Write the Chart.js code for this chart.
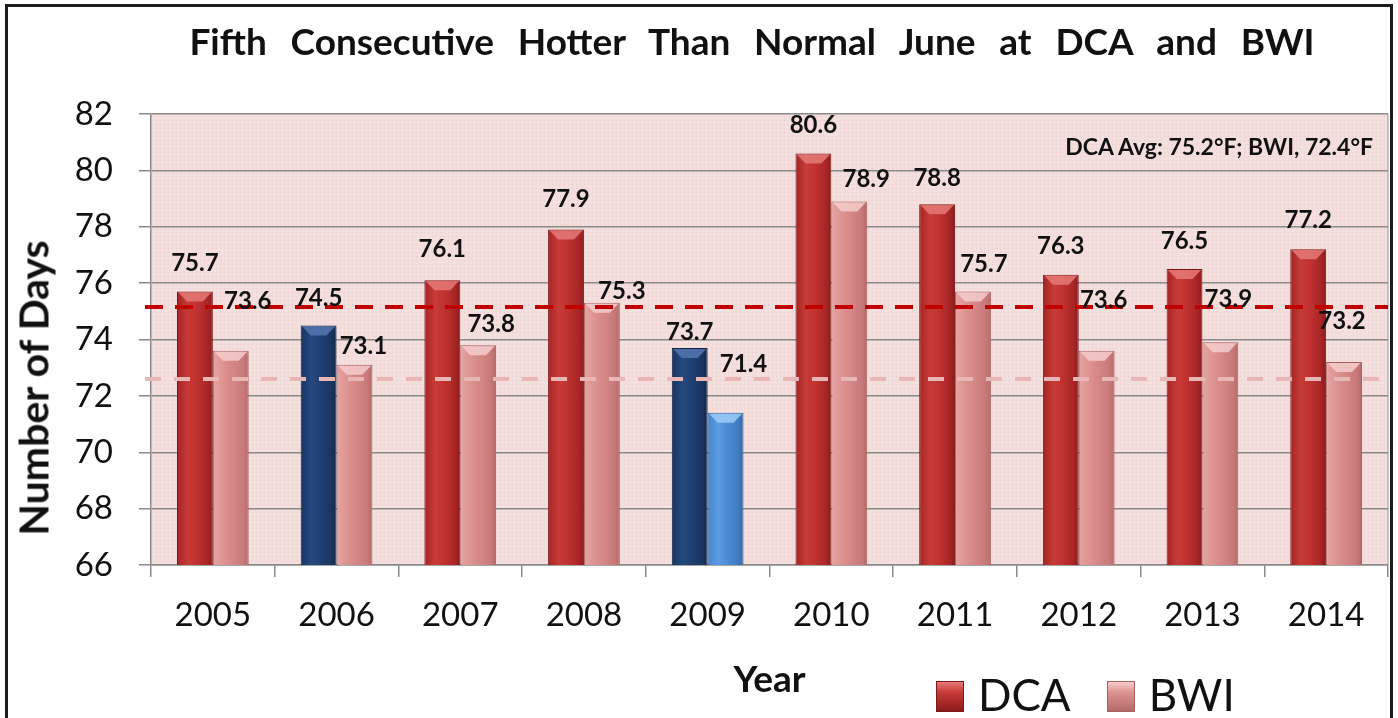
<!DOCTYPE html>
<html>
<head>
<meta charset="utf-8">
<title>Fifth Consecutive Hotter Than Normal June at DCA and BWI</title>
<script src="https://cdn.jsdelivr.net/npm/chart.js@4.4.1/dist/chart.umd.min.js"></script>
<style>
  html, body { margin: 0; padding: 0; background: #fff; }
  body { width: 1398px; height: 718px; overflow: hidden; position: relative;
         font-family: Lato, "Open Sans", sans-serif; color: #111; }
  #frame { position: absolute; left: 5px; top: 4px; width: 1382px; height: 800px;
           border: 3px solid #1c1c1c; }
  #wrap { position: absolute; left: 0; top: 0; width: 1398px; height: 718px; }
  #title { position: absolute; left: 752px; top: 22px; transform: translateX(-50%);
           font-weight: bold; font-size: 37px; line-height: 37px; white-space: nowrap; }
  #ytitle { position: absolute; left: 33px; top: 388px; transform: translate(-50%, -50%) rotate(-90deg);
            font-weight: bold; font-size: 41px; line-height: 41px; white-space: nowrap; }
  #note { position: absolute; right: 25px; top: 135px; font-weight: bold; font-size: 23px;
          line-height: 23px; white-space: nowrap; }
  #legend { position: absolute; left: 936px; top: 672px; height: 44px; display: flex; align-items: center; }
  #legend .item { display: flex; align-items: center; margin-right: 36px; }
  #legend .sw { width: 28px; height: 31px; margin-right: 14px; margin-top: 4px; box-sizing: border-box; }
  #legend .tx { font-size: 44px; line-height: 44px; }
</style>
</head>
<body>
<div id="frame"></div>
<div id="wrap"><canvas id="chart"></canvas></div>
<div id="title">Fifth Consecutive Hotter Than Normal June at DCA and BWI</div>
<div id="ytitle">Number of Days</div>
<div id="note">DCA Avg: 75.2°F; BWI, 72.4°F</div>
<div id="legend"></div>
<script>
(function () {
  "use strict";

  /* ---- data ---- */
  var YEARS = ["2005", "2006", "2007", "2008", "2009", "2010", "2011", "2012", "2013", "2014"];
  var DCA = [75.7, 74.5, 76.1, 77.9, 73.7, 80.6, 78.8, 76.3, 76.5, 77.2];
  var BWI = [73.6, 73.1, 73.8, 75.3, 71.4, 78.9, 75.7, 73.6, 73.9, 73.2];
  var DCA_COOL = ["2006", "2009"];   // bars shown in blue
  var BWI_COOL = ["2009"];
  var DCA_AVG_LINE = 75.15;          // where the dashed lines sit on the axis
  var BWI_AVG_LINE = 72.6;
  var Y_TICKS = [66, 68, 70, 72, 74, 76, 78, 80, 82];

  /* ---- style ---- */
  var FONT = "Lato, 'Open Sans', sans-serif";
  var INK = "#111";
  var GRID = "#8a8a8a";
  var CAT_PCT = 0.58;
  var STOP_POS = [0, 0.3, 0.55, 0.85, 1];
  var PAL = {
    dca:     { stops: ["#a42424", "#c73b37", "#c03230", "#a82626", "#8c1b1b"], cap: "#e57a78", edge: "#7d1818" },
    bwi:     { stops: ["#e6a4a2", "#dd9391", "#d48785", "#c77a79", "#b46a69"], cap: "#f6cdcc", edge: "#a86161" },
    dcaCool: { stops: ["#173463", "#25497f", "#1f3f72", "#1a365f", "#122747"], cap: "#5577b0", edge: "#0f2240" },
    bwiCool: { stops: ["#4686d0", "#5a9be2", "#4c8cd4", "#3f7cc2", "#3368a8"], cap: "#9fcdf5", edge: "#2d5d98" }
  };
  // the Excel labels were nudged by hand; these copy the offsets (px)
  var DCA_LIFT = [28, 27, 31, 30, 16, 28, 26, 28, 28, 29];
  var BWI_LIFT = [50, 19, 21, 12, 49, 22, 27, 51, 43, 41];
  var BWI_SHIFT = [-1, -9, -5, 2, 0, -1, -7, -11, -10, -20];

  function paletteFor(di, i) {
    var cool = di === 0 ? DCA_COOL : BWI_COOL;
    var key = (di === 0 ? "dca" : "bwi") + (cool.indexOf(YEARS[i]) >= 0 ? "Cool" : "");
    return PAL[key];
  }

  function barFill(c) {
    var pal = paletteFor(c.datasetIndex, c.dataIndex || 0);
    var chart = c.chart, xs = chart.scales.x;
    if (c.type !== "data" || !xs || !chart.chartArea) return pal.stops[2];
    var barW = xs.width / YEARS.length * CAT_PCT / 2;
    var left = xs.getPixelForValue(c.dataIndex) - barW + c.datasetIndex * barW;
    var g = chart.ctx.createLinearGradient(left, 0, left + barW, 0);
    pal.stops.forEach(function (col, k) { g.addColorStop(STOP_POS[k], col); });
    return g;
  }

  function barEdge(c) {
    return paletteFor(c.datasetIndex, c.dataIndex || 0).edge;
  }

  /* ---- plugins ---- */
  function dotPattern(ctx) {
    var c = document.createElement("canvas");
    c.width = 4; c.height = 4;
    var p = c.getContext("2d");
    p.fillStyle = "#f3dedd"; p.fillRect(0, 0, 4, 4);
    p.fillStyle = "#eccfce"; p.fillRect(0, 0, 1, 1);
    p.fillStyle = "#f6e7de"; p.fillRect(2, 2, 1, 1);
    return ctx.createPattern(c, "repeat");
  }

  var plotBackground = {
    id: "plotBackground",
    beforeDraw: function (chart) {
      var a = chart.chartArea, ctx = chart.ctx;
      ctx.save();
      ctx.fillStyle = dotPattern(ctx);
      ctx.fillRect(a.left, a.top, a.right - a.left, a.bottom - a.top);
      ctx.strokeStyle = "#b5b5b5";
      ctx.lineWidth = 1.5;
      ctx.beginPath();
      ctx.moveTo(a.right, a.top);
      ctx.lineTo(a.right, a.bottom);
      ctx.stroke();
      ctx.restore();
    }
  };

  var barCaps = {
    id: "barCaps",
    afterDatasetsDraw: function (chart) {
      var ctx = chart.ctx;
      ctx.save();
      chart.data.datasets.forEach(function (ds, di) {
        chart.getDatasetMeta(di).data.forEach(function (bar, i) {
          var pal = paletteFor(di, i);
          var w = bar.width, l = bar.x - w / 2, t = bar.y, d = 10;
          ctx.globalAlpha = 0.85;
          ctx.fillStyle = pal.cap;
          ctx.beginPath();
          ctx.moveTo(l + 1.5, t + 1);
          ctx.lineTo(l + w - 1.5, t + 1);
          ctx.lineTo(l + w * 0.72, t + d);
          ctx.lineTo(l + w * 0.28, t + d);
          ctx.closePath();
          ctx.fill();
        });
      });
      ctx.restore();
    }
  };

  var avgLines = {
    id: "avgLines",
    afterDatasetsDraw: function (chart) {
      var a = chart.chartArea, ys = chart.scales.y, ctx = chart.ctx;
      [[DCA_AVG_LINE, "#c00000", [18, 12]], [BWI_AVG_LINE, "#e8b6b4", [16, 13]]].forEach(function (l) {
        var y = ys.getPixelForValue(l[0]);
        ctx.save();
        ctx.strokeStyle = l[1];
        ctx.lineWidth = 4;
        ctx.setLineDash(l[2]);
        ctx.beginPath();
        ctx.moveTo(a.left - 6, y);
        ctx.lineTo(a.right, y);
        ctx.stroke();
        ctx.restore();
      });
    }
  };

  var valueLabels = {
    id: "valueLabels",
    afterDatasetsDraw: function (chart) {
      var ctx = chart.ctx;
      ctx.save();
      ctx.font = "bold 24px " + FONT;
      ctx.fillStyle = INK;
      ctx.textAlign = "center";
      ctx.textBaseline = "middle";
      chart.getDatasetMeta(0).data.forEach(function (bar, i) {
        ctx.fillText(chart.data.datasets[0].data[i].toFixed(1), bar.x, bar.y - DCA_LIFT[i]);
      });
      chart.getDatasetMeta(1).data.forEach(function (bar, i) {
        ctx.fillText(chart.data.datasets[1].data[i].toFixed(1),
          bar.x + bar.width / 2 + BWI_SHIFT[i], bar.y - BWI_LIFT[i]);
      });
      ctx.restore();
    }
  };

  /* ---- chart ---- */
  var tickFont = { family: FONT, size: 33 };
  var chart = new Chart(document.getElementById("chart").getContext("2d"), {
    type: "bar",
    data: {
      labels: YEARS,
      datasets: [
        { label: "DCA", data: DCA, backgroundColor: barFill, borderColor: barEdge, borderWidth: 1,
          categoryPercentage: CAT_PCT, barPercentage: 1 },
        { label: "BWI", data: BWI, backgroundColor: barFill, borderColor: barEdge, borderWidth: 1,
          categoryPercentage: CAT_PCT, barPercentage: 1 }
      ]
    },
    options: {
      responsive: true,
      maintainAspectRatio: false,
      animation: false,
      devicePixelRatio: 1,
      events: [],
      layout: { padding: { top: 114, right: 10, left: 0, bottom: 0 } },
      plugins: { legend: { display: false }, title: { display: false }, tooltip: { enabled: false } },
      scales: {
        x: {
          grid: { offset: true, drawOnChartArea: false, tickLength: 12, color: GRID, lineWidth: 1.5 },
          border: { color: GRID, width: 1.5 },
          ticks: { font: tickFont, color: INK, padding: 19, maxRotation: 0 },
          title: { display: true, text: "Year", color: INK,
                   font: { family: FONT, size: 37, weight: "bold" }, padding: { top: 0, bottom: 16 } },
          afterFit: function (s) { s.height = 153; }
        },
        y: {
          min: Y_TICKS[0],
          max: Y_TICKS[Y_TICKS.length - 1],
          afterBuildTicks: function (s) { s.ticks = Y_TICKS.map(function (v) { return { value: v }; }); },
          grid: { color: GRID, lineWidth: 1.5, tickLength: 12 },
          border: { color: GRID, width: 1.5 },
          ticks: { font: tickFont, color: INK, padding: 26 },
          afterFit: function (s) { s.width = 151; }
        }
      }
    },
    plugins: [plotBackground, barCaps, avgLines, valueLabels]
  });

  /* ---- legend (html, from the datasets) ---- */
  var legend = document.getElementById("legend");
  chart.data.datasets.forEach(function (ds, di) {
    var pal = paletteFor(di, 0);
    var item = document.createElement("div");
    item.className = "item";
    var sw = document.createElement("span");
    sw.className = "sw";
    sw.style.background = "linear-gradient(180deg, " + pal.cap + " 0%, " + pal.stops[1] + " 35%, " +
      pal.stops[4] + " 100%)";
    sw.style.border = "1px solid " + pal.edge;
    var tx = document.createElement("span");
    tx.className = "tx";
    tx.textContent = ds.label;
    item.appendChild(sw);
    item.appendChild(tx);
    legend.appendChild(item);
  });

  /* ---- title: the original spreads the words across 190..1315 px ---- */
  var title = document.getElementById("title");
  var words = title.textContent.split(" ").length - 1;
  var extra = (1125 - title.offsetWidth) / words;
  if (extra > 0) title.style.wordSpacing = extra + "px";
})();
</script>
</body>
</html>
